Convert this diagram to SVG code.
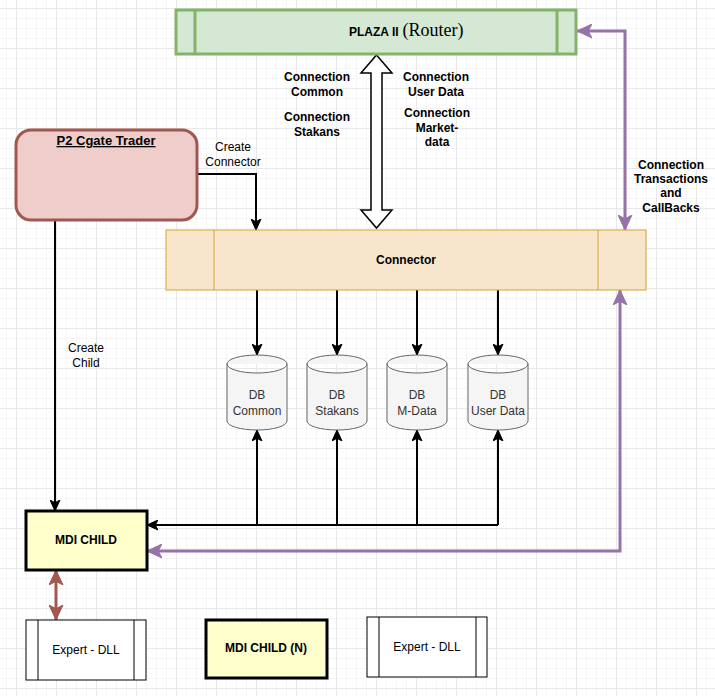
<svg xmlns="http://www.w3.org/2000/svg" width="715" height="696" viewBox="0 0 715 696">
  <style>
    text { font-family: "Liberation Sans", Arial, sans-serif; font-size: 12px; fill: #000; text-anchor: middle; }
    .b { font-weight: bold; }
    .db { fill: #333333; }
    .line { fill: none; stroke: #000; stroke-width: 2; }
    .purple { fill: none; stroke: #9673a6; stroke-width: 3; }
    .brown { fill: none; stroke: #a0574f; stroke-width: 3; }
    .cyl { fill: #f5f5f5; stroke: #666666; stroke-width: 1; }
    .dll { fill: #ffffff; stroke: #000; stroke-width: 1; }
    .mdi { fill: #ffffcc; stroke: #000; stroke-width: 3; }
  </style>
  <defs>
    <pattern id="minor" width="10" height="10" patternUnits="userSpaceOnUse" x="6" y="8">
      <path d="M0,0.5 H10 M0.5,0 V10" fill="none" stroke="#f5f5f5" stroke-width="1"/>
    </pattern>
    <pattern id="major" width="40" height="40" patternUnits="userSpaceOnUse" x="16" y="8">
      <path d="M0,0.5 H40 M0.5,0 V40" fill="none" stroke="#e8e8e8" stroke-width="1"/>
    </pattern>
    <marker id="ak" markerUnits="userSpaceOnUse" markerWidth="11" markerHeight="11" viewBox="0 0 11 11" refX="11" refY="5.5" orient="auto-start-reverse">
      <path d="M11,5.5 L0,0.5 L2.75,5.5 L0,10.5 Z" fill="#000" stroke="#000" stroke-width="1"/>
    </marker>
    <marker id="ap" markerUnits="userSpaceOnUse" markerWidth="15" markerHeight="15" viewBox="0 0 15 15" refX="15" refY="7.5" orient="auto-start-reverse">
      <path d="M15,7.5 L0,0.5 L3.75,7.5 L0,14.5 Z" fill="#9673a6" stroke="#9673a6" stroke-width="1"/>
    </marker>
    <marker id="ab" markerUnits="userSpaceOnUse" markerWidth="15" markerHeight="15" viewBox="0 0 15 15" refX="15" refY="7.5" orient="auto-start-reverse">
      <path d="M15,7.5 L0,0.5 L3.75,7.5 L0,14.5 Z" fill="#a0574f" stroke="#a0574f" stroke-width="1"/>
    </marker>
  </defs>

  <rect x="0" y="0" width="715" height="696" fill="#ffffff"/>
  <rect x="0" y="0" width="715" height="696" fill="url(#minor)"/>
  <rect x="0" y="0" width="715" height="696" fill="url(#major)"/>

  <g id="connectors">
    <path class="line" d="M197,174 H256 V230" marker-end="url(#ak)"/>
    <path class="line" d="M55,220 V511" marker-end="url(#ak)"/>
    <path class="line" d="M257,290 V355" marker-end="url(#ak)"/>
    <path class="line" d="M337,290 V355" marker-end="url(#ak)"/>
    <path class="line" d="M417,290 V355" marker-end="url(#ak)"/>
    <path class="line" d="M498,290 V355" marker-end="url(#ak)"/>
    <path class="line" d="M498,525 H147" marker-end="url(#ak)"/>
    <path class="line" d="M257,525 V430" marker-end="url(#ak)"/>
    <path class="line" d="M337,525 V430" marker-end="url(#ak)"/>
    <path class="line" d="M417,525 V430" marker-end="url(#ak)"/>
    <path class="line" d="M498,525 V430" marker-end="url(#ak)"/>
    <path class="purple" d="M577,31 H625 V230" marker-start="url(#ap)" marker-end="url(#ap)"/>
    <path class="purple" d="M620,290 V551 H147" marker-start="url(#ap)" marker-end="url(#ap)"/>
    <path class="brown" d="M56,570 V620" marker-start="url(#ab)" marker-end="url(#ab)"/>
    <polygon points="376.5,55 392,73 382,73 382,210 392,210 376.5,228 361,210 371,210 371,73 361,73" fill="#ffffff" stroke="#000" stroke-width="1.5" stroke-linejoin="miter"/>
  </g>

  <g id="labels">
    <text class="b" x="317" y="81">Connection</text>
    <text class="b" x="317" y="96">Common</text>
    <text class="b" x="317" y="121">Connection</text>
    <text class="b" x="317" y="136">Stakans</text>
    <text class="b" x="436" y="81">Connection</text>
    <text class="b" x="436" y="96">User Data</text>
    <text class="b" x="437" y="117">Connection</text>
    <text class="b" x="437" y="132">Market-</text>
    <text class="b" x="437" y="146">data</text>
    <text x="233" y="151">Create</text>
    <text x="233" y="166">Connector</text>
    <text x="86" y="352">Create</text>
    <text x="86" y="367">Child</text>
    <text class="b" x="671" y="169">Connection</text>
    <text class="b" x="671" y="183">Transactions</text>
    <text class="b" x="671" y="197">and</text>
    <text class="b" x="671" y="212">CallBacks</text>
  </g>

  <g id="plaza">
    <rect x="176" y="10" width="400" height="44" fill="#d5e8d4" stroke="#82b366" stroke-width="3"/>
    <line x1="195" y1="10" x2="195" y2="54" stroke="#82b366" stroke-width="3"/>
    <line x1="557" y1="10" x2="557" y2="54" stroke="#82b366" stroke-width="3"/>
    <text x="349" y="36" style="text-anchor:start"><tspan class="b">PLAZA II</tspan><tspan dx="4" style="font-family:'Liberation Serif','Times New Roman',serif;font-size:18px">(Router)</tspan></text>
  </g>

  <g id="p2trader">
    <rect x="16" y="130" width="181" height="90" rx="15" ry="15" fill="#eecdcb" stroke="#a0574f" stroke-width="3"/>
    <text class="b" x="106" y="145" style="font-size:13px;text-decoration:underline">P2 Cgate Trader</text>
  </g>

  <g id="connector">
    <rect x="166" y="230" width="480" height="60" fill="#f7e6cc" stroke="#d6a32e" stroke-width="1"/>
    <line x1="214" y1="230" x2="214" y2="290" stroke="#d6a32e" stroke-width="1"/>
    <line x1="598" y1="230" x2="598" y2="290" stroke="#d6a32e" stroke-width="1"/>
    <text class="b" x="406" y="264">Connector</text>
  </g>

  <g id="db-common">
    <path class="cyl" d="M227,364 A30,9 0 0 1 287,364 V421 A30,9 0 0 1 227,421 Z M227,364 A30,9 0 0 0 287,364"/>
    <text class="db" x="257" y="399">DB</text>
    <text class="db" x="257" y="415">Common</text>
  </g>
  <g id="db-stakans">
    <path class="cyl" d="M307,364 A30,9 0 0 1 367,364 V421 A30,9 0 0 1 307,421 Z M307,364 A30,9 0 0 0 367,364"/>
    <text class="db" x="337" y="399">DB</text>
    <text class="db" x="337" y="415">Stakans</text>
  </g>
  <g id="db-mdata">
    <path class="cyl" d="M387,364 A30,9 0 0 1 447,364 V421 A30,9 0 0 1 387,421 Z M387,364 A30,9 0 0 0 447,364"/>
    <text class="db" x="417" y="399">DB</text>
    <text class="db" x="417" y="415">M-Data</text>
  </g>
  <g id="db-userdata">
    <path class="cyl" d="M468,364 A30,9 0 0 1 528,364 V421 A30,9 0 0 1 468,421 Z M468,364 A30,9 0 0 0 528,364"/>
    <text class="db" x="498" y="399">DB</text>
    <text class="db" x="498" y="415">User Data</text>
  </g>

  <g id="mdi-child">
    <rect class="mdi" x="26" y="511" width="121" height="59"/>
    <text class="b" x="86" y="544">MDI CHILD</text>
  </g>

  <g id="expert-dll-1">
    <rect class="dll" x="26" y="620" width="120" height="60"/>
    <line x1="38" y1="620" x2="38" y2="680" stroke="#000" stroke-width="1"/>
    <line x1="134" y1="620" x2="134" y2="680" stroke="#000" stroke-width="1"/>
    <text x="86" y="654">Expert - DLL</text>
  </g>

  <g id="mdi-child-n">
    <rect class="mdi" x="206" y="620" width="121" height="58"/>
    <text class="b" x="266" y="652">MDI CHILD (N)</text>
  </g>

  <g id="expert-dll-2">
    <rect class="dll" x="367" y="617" width="120" height="60"/>
    <line x1="379" y1="617" x2="379" y2="677" stroke="#000" stroke-width="1"/>
    <line x1="476" y1="617" x2="476" y2="677" stroke="#000" stroke-width="1"/>
    <text x="427" y="651">Expert - DLL</text>
  </g>
</svg>
